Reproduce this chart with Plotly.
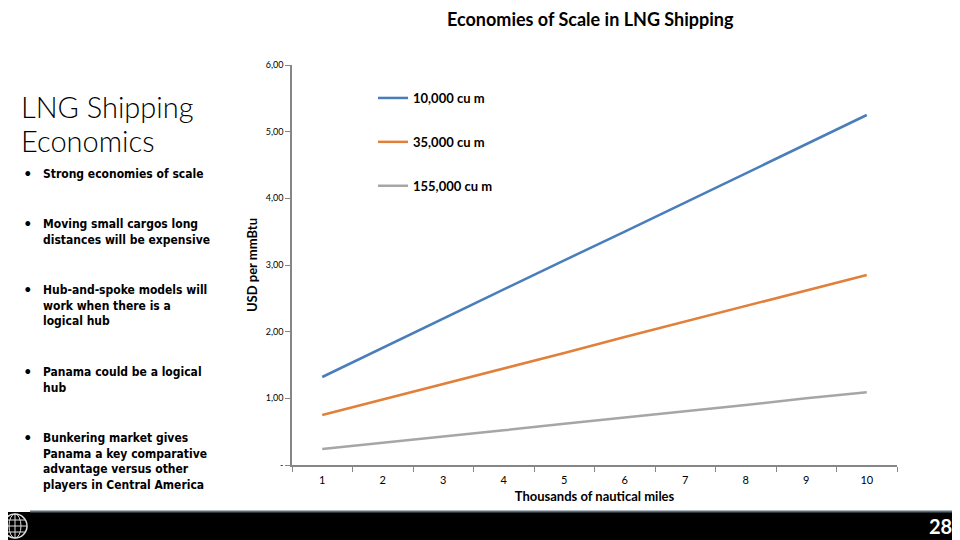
import plotly.graph_objects as go

# ---- data ----
distance_k_nm = ["1", "2", "3", "4", "5", "6", "7", "8", "9", "10"]
cost_10000 = [1.32, 1.76, 2.19, 2.63, 3.07, 3.50, 3.94, 4.38, 4.81, 5.25]
cost_35000 = [0.75, 0.98, 1.22, 1.45, 1.68, 1.92, 2.15, 2.38, 2.62, 2.85]
cost_155000 = [0.24, 0.33, 0.43, 0.52, 0.62, 0.71, 0.81, 0.90, 1.00, 1.09]
series_names = ["10,000 cu m", "35,000 cu m", "155,000 cu m"]
y_tickvals = [0, 1, 2, 3, 4, 5, 6]
y_ticktext = ["-", "1,00", "2,00", "3,00", "4,00", "5,00", "6,00"]

chart_title = "Economies of Scale in LNG Shipping"
slide_title = ["LNG Shipping", "Economics"]
bullets = [
    ["Strong economies of scale"],
    ["Moving small cargos long", "distances will be expensive"],
    ["Hub-and-spoke models will", "work when there is a", "logical hub"],
    ["Panama could be a logical", "hub"],
    ["Bunkering market gives", "Panama a key comparative", "advantage versus other", "players in Central America"],
]
bullet_tops = [173, 223, 289, 371, 437]
page_number = "28"

colors = ["#4A7EBB", "#E0803A", "#A6A6A6"]
FONT = "Lato, 'Open Sans', Arial, sans-serif"
BFONT = "'DejaVu Sans Condensed', 'Open Sans', Lato, Arial, sans-serif"

# the page body has an 8px margin; work in window pixels and compensate
OFF = 8
W, H = 960 - OFF, 540 - OFF
PL, PR, PT, PB = 292, 897, 65, 465  # plot area in window pixels
L, R, T, B = PL - OFF, (960 - PR), PT - OFF, (540 - PB)
PW, PH = W - L - R, H - T - B


def px(x):
    return (x - OFF - L) / PW


def py(y):
    return (H - B - (y - OFF)) / PH


fig = go.Figure()
for name, vals, c in zip(series_names, [cost_10000, cost_35000, cost_155000], colors):
    fig.add_trace(go.Scatter(
        x=distance_k_nm, y=vals, mode="lines", name=name,
        line=dict(color=c, width=2.5), legendgroup=name,
    ))

annotations = []
annotations.append(dict(text=f"<b>{chart_title}</b>", x=px(590), y=py(19), xref="paper", yref="paper",
                        showarrow=False, font=dict(size=18, color="#000", family=FONT), xanchor="center", yanchor="middle"))
for i, line in enumerate(slide_title):
    annotations.append(dict(text=line, x=px(19), y=py(106 + 35 * i), xref="paper", yref="paper",
                            showarrow=False, font=dict(size=29, color="#000", family=FONT, weight=300),
                            xanchor="left", yanchor="middle"))
for top, lines in zip(bullet_tops, bullets):
    annotations.append(dict(text="•", x=px(22), y=py(top), xref="paper", yref="paper",
                            showarrow=False, font=dict(size=13, color="#000", family=FONT),
                            xanchor="left", yanchor="middle"))
    annotations.append(dict(text="<br>".join(lines), x=px(41), y=py(top - 8), xref="paper", yref="paper",
                            showarrow=False, font=dict(size=12, color="#000", family=BFONT, weight="bold"),
                            xanchor="left", yanchor="top", align="left"))
annotations.append(dict(text=f"<b>{page_number}</b>", x=px(954), y=py(526), xref="paper", yref="paper",
                        showarrow=False, font=dict(size=20, color="#fff", family=FONT),
                        xanchor="right", yanchor="middle"))

shapes = [
    dict(type="rect", xref="paper", yref="paper", x0=px(0), x1=px(960), y0=py(541), y1=py(512),
         fillcolor="#000", line=dict(width=0), layer="below"),
    dict(type="line", xref="paper", yref="paper", x0=px(30), x1=px(960), y0=py(511.5), y1=py(511.5),
         line=dict(color="#5A6E80", width=2)),
    # globe icon
    dict(type="circle", xref="paper", yref="paper", x0=px(3), x1=px(27), y0=py(538), y1=py(514),
         line=dict(color="#ddd", width=1.5)),
    dict(type="circle", xref="paper", yref="paper", x0=px(9), x1=px(21), y0=py(538), y1=py(514),
         line=dict(color="#ddd", width=1)),
    dict(type="line", xref="paper", yref="paper", x0=px(15), x1=px(15), y0=py(538), y1=py(514),
         line=dict(color="#ddd", width=1)),
    dict(type="line", xref="paper", yref="paper", x0=px(3), x1=px(27), y0=py(526), y1=py(526),
         line=dict(color="#ddd", width=1)),
    dict(type="line", xref="paper", yref="paper", x0=px(5), x1=px(25), y0=py(520), y1=py(520),
         line=dict(color="#ddd", width=1)),
    dict(type="line", xref="paper", yref="paper", x0=px(5), x1=px(25), y0=py(532), y1=py(532),
         line=dict(color="#ddd", width=1)),
]

fig.update_layout(
    width=W, height=H,
    margin=dict(l=L, r=R, t=T, b=B),
    paper_bgcolor="white", plot_bgcolor="white",
    font=dict(family=FONT, color="#000"),
    showlegend=True,
    legend=dict(x=px(373), y=py(83), xanchor="left", yanchor="top",
                font=dict(size=13, family=FONT, color="#000", weight="bold"),
                tracegroupgap=24, bgcolor="rgba(0,0,0,0)", itemwidth=30),
    xaxis=dict(type="category", range=[-0.5, 9.5], tickson="boundaries", ticks="outside", ticklen=5,
               tickcolor="#868686", ticklabelstandoff=4,
               showline=True, linecolor="#868686", linewidth=1.5, showgrid=False, zeroline=False,
               tickfont=dict(size=11, family=FONT),
               title=dict(text="<b>Thousands of nautical miles</b>", font=dict(size=13, family=FONT), standoff=7)),
    yaxis=dict(range=[0, 6], tickvals=y_tickvals, ticktext=y_ticktext, ticks="outside", ticklen=5,
               tickcolor="#868686", showline=True, linecolor="#868686", linewidth=1.5,
               showgrid=False, zeroline=False, tickfont=dict(size=9, family=FONT),
               title=dict(text="<b>USD per mmBtu</b>", font=dict(size=13, family=FONT), standoff=5)),
    annotations=annotations,
    shapes=shapes,
)

fig.write_html("out.html")
